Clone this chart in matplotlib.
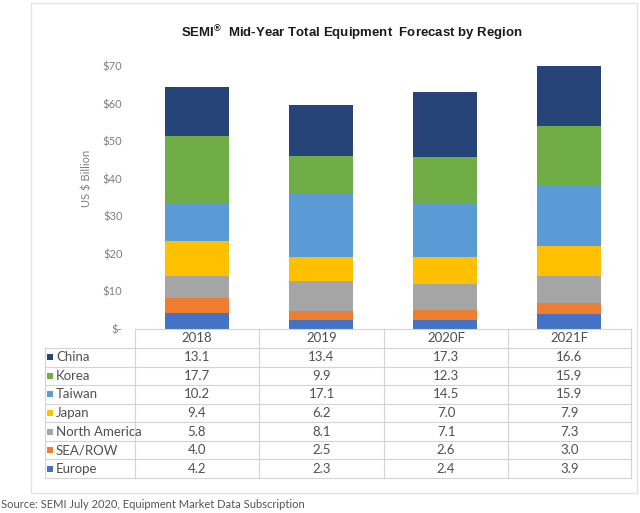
import matplotlib.pyplot as plt
from matplotlib.lines import Line2D
from matplotlib.patches import Rectangle

years = ["2018", "2019", "2020F", "2021F"]
regions = ["China", "Korea", "Taiwan", "Japan", "North America", "SEA/ROW", "Europe"]
china = [13.1, 13.4, 17.3, 16.6]
korea = [17.7, 9.9, 12.3, 15.9]
taiwan = [10.2, 17.1, 14.5, 15.9]
japan = [9.4, 6.2, 7.0, 7.9]
north_america = [5.8, 8.1, 7.1, 7.3]
sea_row = [4.0, 2.5, 2.6, 3.0]
europe = [4.2, 2.3, 2.4, 3.9]
yticks = [0, 10, 20, 30, 40, 50, 60, 70]
ytick_labels = ["$-", "$10", "$20", "$30", "$40", "$50", "$60", "$70"]

series = [china, korea, taiwan, japan, north_america, sea_row, europe]
colors = ["#264478", "#70AD47", "#5B9BD5", "#FFC000", "#A5A5A5", "#ED7D31", "#4472C4"]

plt.rcParams["font.family"] = ["Lato", "DejaVu Sans"]
plt.rcParams["mathtext.fontset"] = "custom"
plt.rcParams["mathtext.rm"] = "Liberation Sans"
plt.rcParams["mathtext.bf"] = "Liberation Sans:bold"

W, H = 640, 513
fig = plt.figure(figsize=(W / 100, H / 100), dpi=100)


def fx(x):
  return x / W


def fy(y):
  return 1 - y / H


# Outer panel frame
fig.add_artist(Rectangle((fx(31), fy(493)), fx(637) - fx(31), fy(3) - fy(493),
                         transform=fig.transFigure, facecolor="none",
                         edgecolor="#e2e2e2", linewidth=1.0))

# Stacked bars (bottom to top: Europe ... China)
ax = fig.add_axes([fx(135), fy(329), fx(631) - fx(135), fy(66) - fy(329)])
xpos = list(range(len(years)))
bottom = [0.0] * len(years)
for values, color in zip(series[::-1], colors[::-1]):
  ax.bar(xpos, values, width=0.52, bottom=bottom, color=color, edgecolor="none")
  bottom = [b + v for b, v in zip(bottom, values)]

ax.set_xlim(-0.5, len(years) - 0.5)
ax.set_ylim(0, 70)
ax.set_yticks(yticks)
ax.set_yticklabels(ytick_labels, color="#7f7f7f", fontsize=8)
ax.tick_params(axis="y", length=0, pad=9)
ax.set_xticks([])
for spine in ax.spines.values():
  spine.set_visible(False)

fig.text(fx(87), fy(178), "US $ Billion", rotation=90, ha="center", va="center",
         fontsize=8, color="#7f7f7f")

# Title
fig.text(fx(352), fy(33), r"SEMI$^{\mathbf{®}}$  Mid-Year Total Equipment  Forecast by Region",
         ha="center", va="center", fontsize=9.5, fontweight="bold",
         family="Liberation Sans", color="#1a1a1a")

# Data table
grid_color = "#d4d4d4"
text_color = "#505050"
col_edges = [135, 259, 384, 508, 631]
header_top, header_bottom, table_bottom = 329, 348, 478
row_h = (table_bottom - header_bottom) / len(regions)


def hline(y, x0, x1):
  fig.add_artist(Line2D([fx(x0), fx(x1)], [fy(y), fy(y)], transform=fig.transFigure,
                        color=grid_color, linewidth=0.8))


def vline(x, y0, y1):
  fig.add_artist(Line2D([fx(x), fx(x)], [fy(y0), fy(y1)], transform=fig.transFigure,
                        color=grid_color, linewidth=0.8))


hline(header_top, col_edges[0], col_edges[-1])
for i in range(len(regions) + 1):
  hline(header_bottom + i * row_h, 45, col_edges[-1])
vline(45, header_bottom, table_bottom)
for x in col_edges:
  vline(x, header_top, table_bottom)

for j, year in enumerate(years):
  cx = (col_edges[j] + col_edges[j + 1]) / 2
  fig.text(fx(cx), fy((header_top + header_bottom) / 2), year, ha="center", va="center",
           fontsize=9.5, color=text_color)

for i, (name, values, color) in enumerate(zip(regions, series, colors)):
  cy = header_bottom + (i + 0.5) * row_h
  fig.add_artist(Rectangle((fx(47), fy(cy + 3)), fx(6), fy(0) - fy(6),
                           transform=fig.transFigure, facecolor=color, edgecolor="none"))
  fig.text(fx(56), fy(cy), name, ha="left", va="center", fontsize=9.5, color=text_color)
  for j, v in enumerate(values):
    cx = (col_edges[j] + col_edges[j + 1]) / 2
    fig.text(fx(cx), fy(cy), f"{v:.1f}", ha="center", va="center",
             fontsize=9.5, color=text_color)

# Source line
fig.text(fx(1), fy(505), "Source: SEMI July 2020, Equipment Market Data Subscription",
         ha="left", va="center", fontsize=8, color="#555555")

fig.savefig("out.png", dpi=100)
